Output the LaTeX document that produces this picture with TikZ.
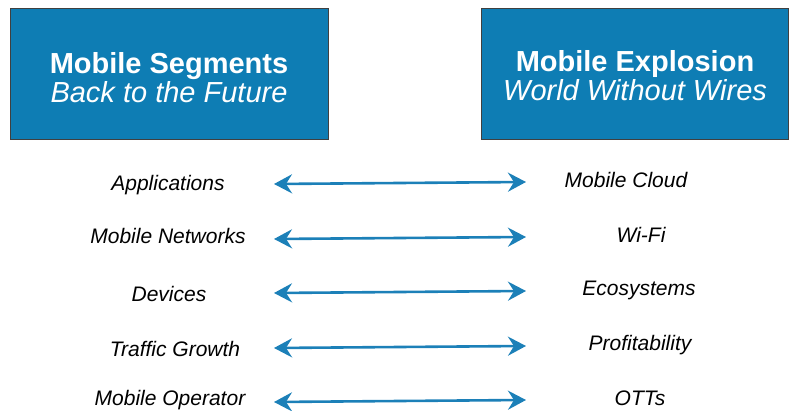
\documentclass[tikz,border=0pt]{standalone}
\usepackage{fontspec}
\setmainfont{Liberation Sans}
\usepackage{tikz}
\usetikzlibrary{arrows.meta,positioning}

\definecolor{panelblue}{RGB}{14,125,180}
\definecolor{arrowblue}{RGB}{28,128,184}

\begin{document}
\begin{tikzpicture}[x=1pt,y=-1pt,>={Stealth[length=18pt,width=19pt,inset=6pt]},
                    line width=2.6pt]
  \tikzstyle{panel}=[rectangle,fill=panelblue,draw=black!75,line width=0.8pt,inner sep=0pt]
  \tikzstyle{paneltext}=[text=white,align=center,font=\fontsize{29}{29}\selectfont]
  \tikzstyle{item}=[font=\itshape\fontsize{21}{25}\selectfont,inner sep=0pt]
  \tikzstyle{link}=[<->,draw=arrowblue]

  \useasboundingbox (0,0) rectangle (789,411);

  \node[panel, minimum width=318pt, minimum height=131pt] (segbox) at (169,73.5) {};
  \node[panel, minimum width=307pt, minimum height=131pt] (expbox) at (634.5,73.5) {};
  \node[paneltext] (segtitle) at (169,78) {\textbf{Mobile Segments}\\\textit{Back to the Future}};
  \node[paneltext] (exptitle) at (635,76) {\textbf{Mobile Explosion}\\\textit{World Without Wires}};

  \node[item] (A) at (168,185) {Applications};
  \node[item] (B) at (168,236) {Mobile Networks};
  \node[item] (C) at (169,294) {Devices};
  \node[item] (D) at (175,349) {Traffic Growth};
  \node[item] (E) at (170,400) {Mobile Operator};
  \node[item] (F) at (626,180) {Mobile Cloud};
  \node[item] (G) at (641,235) {Wi-Fi};
  \node[item] (H) at (639,290) {Ecosystems};
  \node[item] (I) at (640,345) {Profitability};
  \node[item] (J) at (640,398) {OTTs};

  \coordinate (A1) at (274,184);
  \coordinate (B1) at (274,239);
  \coordinate (C1) at (274,293);
  \coordinate (D1) at (274,348);
  \coordinate (E1) at (274,402);
  \coordinate (F1) at (526,182);
  \coordinate (G1) at (526,237);
  \coordinate (H1) at (526,291);
  \coordinate (I1) at (526,346);
  \coordinate (J1) at (526,400);

  \path (A1) edge[link] (F1)
        (B1) edge[link] (G1)
        (C1) edge[link] (H1)
        (D1) edge[link] (I1)
        (E1) edge[link] (J1);

\end{tikzpicture}
\end{document}
